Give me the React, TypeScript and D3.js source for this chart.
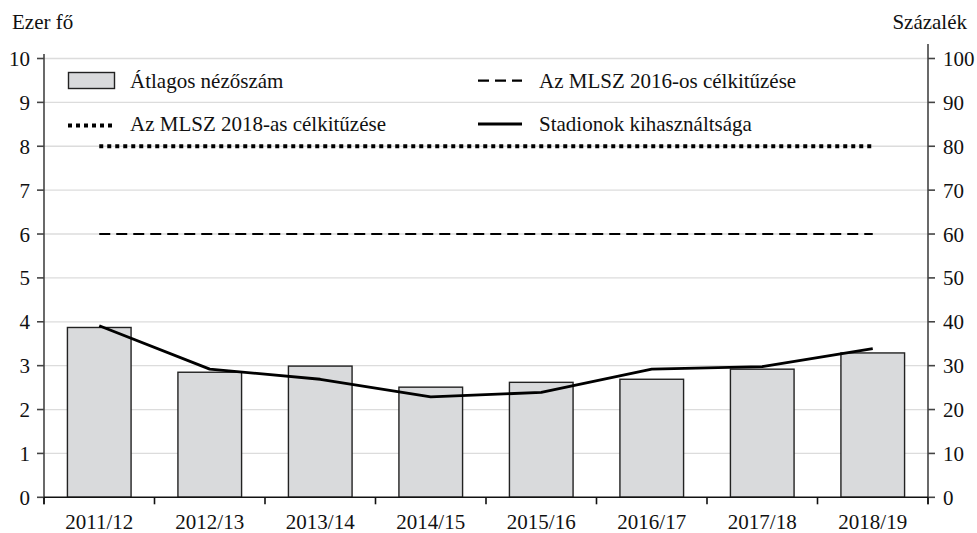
import React from "react";
import * as d3 from "d3";

const categories = ["2011/12", "2012/13", "2013/14", "2014/15", "2015/16", "2016/17", "2017/18", "2018/19"];
const attendance = [3.87, 2.85, 2.99, 2.51, 2.62, 2.69, 2.92, 3.29];
const utilization = [39.1, 29.2, 26.9, 22.9, 23.9, 29.2, 29.8, 33.9];
const target2016 = 60;
const target2018 = 80;
const leftTicks = [0, 1, 2, 3, 4, 5, 6, 7, 8, 9, 10];
const rightTicks = [0, 10, 20, 30, 40, 50, 60, 70, 80, 90, 100];

const W = 977;
const H = 533;
const FONT = "Liberation Serif, DejaVu Serif, serif";
const FS = 21;

export default function App() {
  const x0 = 44;
  const x1 = 928;
  const yBottom = 497.3;
  const yTop = 58.5;

  const x = d3.scaleBand<string>().domain(categories).range([x0, x1]).paddingInner(0.424).paddingOuter(0.212);
  const yL = d3.scaleLinear().domain([0, 10]).range([yBottom, yTop]);
  const yR = d3.scaleLinear().domain([0, 100]).range([yBottom, yTop]);
  const cx = (c: string) => (x(c) as number) + x.bandwidth() / 2;
  const step = x.step();

  const line = d3
    .line<number>()
    .x((_, i) => cx(categories[i]))
    .y((d) => yR(d));

  const firstC = cx(categories[0]);
  const lastC = cx(categories[categories.length - 1]);

  const axisColor = "#444";
  const textColor = "#111";
  const ts = { fontFamily: FONT, fontSize: FS } as React.CSSProperties;

  return (
    <svg width={W} height={H} style={{ position: "absolute", left: 0, top: 0, fontFamily: FONT }}>
      <rect width={W} height={H} fill="#fff" />
      {/* gridlines */}
      {leftTicks.slice(1).map((t) => (
        <line key={"g" + t} x1={x0} x2={x1} y1={yL(t)} y2={yL(t)} stroke="#dcdcdc" strokeWidth={1.3} />
      ))}
      {/* bars */}
      {attendance.map((v, i) => (
        <rect
          key={"b" + i}
          x={x(categories[i])}
          y={yL(v)}
          width={x.bandwidth()}
          height={yBottom - yL(v)}
          fill="#d9dadc"
          stroke="#222"
          strokeWidth={1.4}
        />
      ))}
      {/* target lines */}
      <line x1={firstC} x2={lastC} y1={yR(target2018)} y2={yR(target2018)} stroke="#000" strokeWidth={4} strokeDasharray="4 4" />
      <line x1={firstC} x2={lastC} y1={yR(target2016)} y2={yR(target2016)} stroke="#000" strokeWidth={2.2} strokeDasharray="11 6" />
      {/* utilization line */}
      <path d={line(utilization) || ""} fill="none" stroke="#000" strokeWidth={2.8} strokeLinejoin="round" />

      {/* left axis */}
      <line x1={x0} x2={x0} y1={54} y2={yBottom + 7} stroke={axisColor} strokeWidth={1.6} />
      {leftTicks.map((t) => (
        <g key={"lt" + t}>
          <line x1={x0 - 7} x2={x0} y1={yL(t)} y2={yL(t)} stroke={axisColor} strokeWidth={1.6} />
          <text x={30} y={yL(t) + 7.5} textAnchor="end" style={ts} fill={textColor}>
            {t}
          </text>
        </g>
      ))}
      {/* right axis */}
      <line x1={x1} x2={x1} y1={44} y2={yBottom + 7} stroke={axisColor} strokeWidth={1.6} />
      {rightTicks.map((t) => (
        <g key={"rt" + t}>
          <line x1={x1} x2={x1 + 7} y1={yR(t)} y2={yR(t)} stroke={axisColor} strokeWidth={1.6} />
          <text x={943} y={yR(t) + 7.5} textAnchor="start" style={ts} fill={textColor}>
            {t}
          </text>
        </g>
      ))}
      {/* x axis */}
      <line x1={x0} x2={x1} y1={yBottom} y2={yBottom} stroke="#111" strokeWidth={1.6} />
      {d3.range(categories.length + 1).map((i) => (
        <line key={"xt" + i} x1={x0 + i * step} x2={x0 + i * step} y1={yBottom} y2={yBottom + 7} stroke="#111" strokeWidth={1.6} />
      ))}
      {categories.map((c) => (
        <text key={"xl" + c} x={cx(c)} y={528.5} textAnchor="middle" style={ts} fill={textColor}>
          {c}
        </text>
      ))}

      {/* axis titles */}
      <text x={12} y={29} style={ts} fill={textColor}>
        Ezer fő
      </text>
      <text x={967} y={29} textAnchor="end" style={ts} fill={textColor}>
        Százalék
      </text>

      {/* legend */}
      <rect x={68.5} y={72.5} width={46} height={16} fill="#d9dadc" stroke="#222" strokeWidth={1.4} />
      <text x={130} y={88} style={ts} fill={textColor}>
        Átlagos nézőszám
      </text>
      <line x1={68} x2={115} y1={125.5} y2={125.5} stroke="#000" strokeWidth={4} strokeDasharray="4 4" />
      <text x={130} y={131} style={ts} fill={textColor}>
        Az MLSZ 2018-as célkitűzése
      </text>
      <line x1={478} x2={522} y1={80.7} y2={80.7} stroke="#000" strokeWidth={2.2} strokeDasharray="11 6" />
      <text x={539} y={88} style={ts} fill={textColor}>
        Az MLSZ 2016-os célkitűzése
      </text>
      <line x1={478} x2={522} y1={124} y2={124} stroke="#000" strokeWidth={2.8} />
      <text x={539} y={131} style={ts} fill={textColor}>
        Stadionok kihasználtsága
      </text>
    </svg>
  );
}
